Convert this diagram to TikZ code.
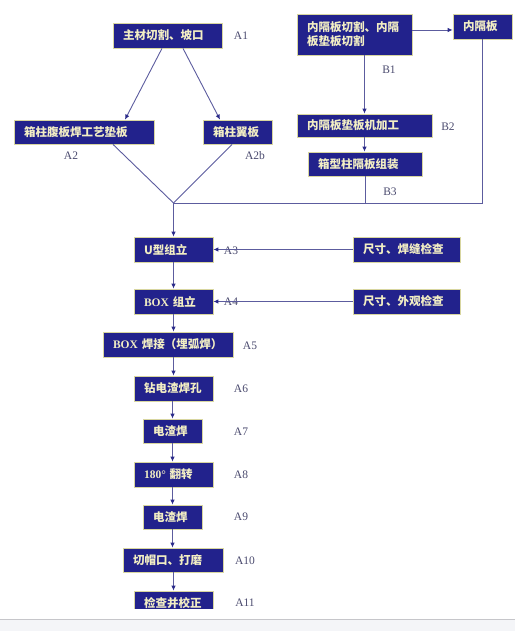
\documentclass[tikz,border=0pt]{standalone}
\usepackage{fontspec}
\setmainfont{Liberation Serif}
\newfontfamily\cjk{Noto Sans CJK SC}
\usepackage{xcolor}
\usepackage{tikz}
\usetikzlibrary{arrows.meta}
\definecolor{boxfill}{HTML}{22228C}
\definecolor{boxrim}{HTML}{D8D6A0}
\definecolor{boxtxt}{HTML}{F2EEC4}
\definecolor{wire}{HTML}{5C5C9E}
\definecolor{tipcol}{HTML}{2A2A8A}
\definecolor{lblcol}{HTML}{4A4A6E}
\definecolor{barbg}{HTML}{F4F5F8}
\definecolor{barline}{HTML}{C6C6CA}
\tikzset{
  box/.style={draw=boxrim,line width=0.8pt,fill=boxfill,text=boxtxt,align=left,
    inner xsep=10pt,inner ysep=0pt,minimum height=25pt,
    font=\cjk\bfseries\fontsize{11.5}{14}\selectfont},
  lbl/.style={text=lblcol,inner sep=0pt,font=\fontsize{11.5}{13}\selectfont},
  ln/.style={draw=wire,line width=0.9pt},
  arr/.style={ln,-{Latex[length=5pt,width=4.5pt,color=tipcol]}}
}
\begin{document}
\begin{tikzpicture}[x=1pt,y=-1pt]
\useasboundingbox (0,0) rectangle (515,631);
% top branch
\node[box,text width=89pt] (a1) at (167.5,35.5) {主材切割、坡口};
\node[box,text width=120pt,minimum height=24pt] (a2) at (84,132) {箱柱腹板焊工艺垫板};
\node[box,text width=49pt,minimum height=24pt] (a2b) at (237.5,132) {箱柱翼板};
\node[lbl] (l1) at (241,36) {A1};
\node[lbl] (l2) at (71,156) {A2};
\node[lbl] (l2b) at (255,156) {A2b};
% diaphragm branch
\node[box,text width=95pt,minimum height=41pt] (b1) at (354.5,34.5) {内隔板切割、内隔\\板垫板切割};
\node[box,text width=39pt] (b0) at (482.5,26.5) {内隔板};
\node[box,text width=115pt,minimum height=23pt] (b2) at (364.5,125.5) {内隔板垫板机加工};
\node[box,text width=94pt,minimum height=24pt] (b3) at (365,164) {箱型柱隔板组装};
\node[lbl] (lb1) at (389,70) {B1};
\node[lbl] (lb2) at (448,127) {B2};
\node[lbl] (lb3) at (390,192) {B3};
% main column
\node[box,text width=59pt] (a3) at (173.5,249.5) {U型组立};
\node[box,text width=87pt] (c3) at (406.5,249.5) {尺寸、焊缝检查};
\node[box,text width=59pt] (a4) at (173.5,301.5) {{\rmfamily BOX} 组立};
\node[box,text width=87pt] (c4) at (406.5,301.5) {尺寸、外观检查};
\node[box,text width=110pt] (a5) at (168,344.5) {{\rmfamily BOX} 焊接（埋弧焊）};
\node[box,text width=59pt] (a6) at (173.5,388.5) {钻电渣焊孔};
\node[box,text width=39pt,minimum height=24pt] (a7) at (172.5,431) {电渣焊};
\node[box,text width=59pt] (a8) at (173.5,474.5) {{\rmfamily 180°} 翻转};
\node[box,text width=39pt,minimum height=24pt] (a9) at (172.5,517) {电渣焊};
\node[box,text width=80pt,minimum height=24pt] (a10) at (173,560) {切帽口、打磨};
\begin{scope}
\clip (0,0) rectangle (515,608);
\node[box,text width=59pt] (a11) at (173.5,603.5) {检查并校正};
\end{scope}
\node[lbl] (l3) at (231,251) {A3};
\node[lbl] (l4) at (231,302) {A4};
\node[lbl] (l5) at (250,346) {A5};
\node[lbl] (l6) at (241,389) {A6};
\node[lbl] (l7) at (241,432) {A7};
\node[lbl] (l8) at (241,475) {A8};
\node[lbl] (l9) at (241,517) {A9};
\node[lbl] (l10) at (245,561) {A10};
\node[lbl] (l11) at (245,603) {A11};
\coordinate (j) at (173.5,203);
% connectors
\draw[arr] ([xshift=-5.5pt]a1.south) -- ([xshift=41pt]a2.north);
\draw[arr] ([xshift=15.5pt]a1.south) -- ([xshift=-17.5pt]a2b.north);
\draw[ln] ([xshift=29pt]a2.south) -- (j);
\draw[ln] ([xshift=-5.5pt]a2b.south) -- (j);
\draw[arr] ([yshift=4.5pt]b1.east) -- ([yshift=-3.5pt]b0.west);
\draw[arr] (b1.south -| b2.north) -- (b2.north);
\draw[arr] (b2.south) -- (b2.south |- b3.north);
\draw[ln] (b3.south) -- (b3.south |- j);
\draw[ln] (j) -- (j -| b0.south) -- (b0.south);
\draw[arr] (j) -- (a3.north);
\draw[arr] (c3.west) -- (a3.east);
\draw[arr] (c4.west) -- (a4.east);
\draw[arr] (a3) -- (a4);
\draw[arr] (a4.south) -- (a4.south |- a5.north);
\draw[arr] (a4.south |- a5.south) -- (a6.north);
\draw[arr] (a6.south -| a7.north) -- (a7.north);
\draw[arr] (a7.south) -- (a7.south |- a8.north);
\draw[arr] (a8.south -| a9.north) -- (a9.north);
\draw[arr] (a9.south) -- (a9.south |- a10.north);
\draw[arr] (a10.south -| a11.north) -- (a11.north);
% bottom strip
\fill[barbg] (0,619) rectangle (515,631);
\draw[barline,line width=0.8pt] (0,619) -- (515,619);
\end{tikzpicture}
\end{document}
